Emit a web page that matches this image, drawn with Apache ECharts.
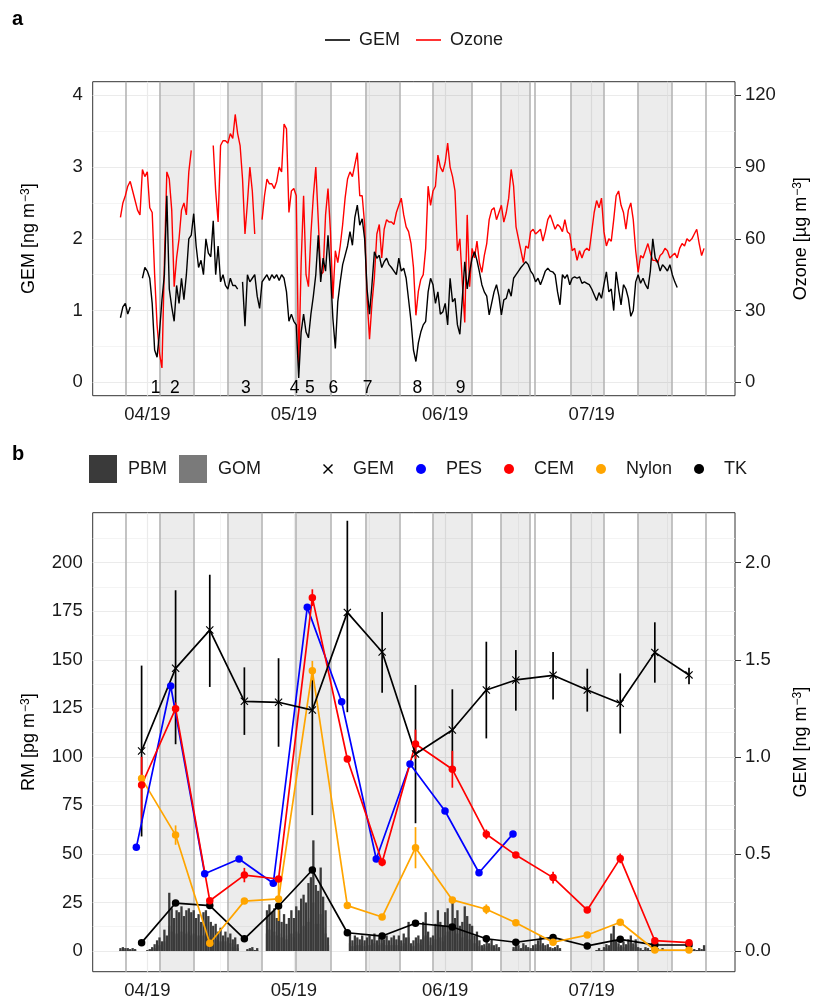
<!DOCTYPE html>
<html>
<head>
<meta charset="utf-8">
<script src="https://cdn.jsdelivr.net/npm/echarts@6/dist/echarts.min.js"></script>
<style>
  html, body { margin: 0; padding: 0; background: #fff; }
  #chart { width: 814px; height: 997px; }
</style>
</head>
<body>
<div id="chart"></div>
<script>
// ---------- data ----------
// panel a + bars of panel b: values every 12 h from seriesStart
var seriesStart = '2019-03-26 12:00';

var gem = [
  0.9, 1.05, 1.1, 0.95, 1.05, null, null, null, null, 1.45,
  1.6, 1.55, 1.45, 1.1, 0.45, 0.35, 0.7, 1.15, 1.5, 2.6,
  1.3, 1.05, 0.85, 1.35, 1.1, 1.45, 1.15, 1.5, 2.0, 2.05,
  2.35, 1.9, 1.6, 1.7, 1.5, 2.0, 1.8, 1.75, 2.25, 1.5,
  1.9, 1.4, 1.5, 1.35, 1.3, 1.45, 1.35, 1.35, 1.3, null,
  1.4, 0.78, 1.5, 1.4, 1.45, 1.5, 1.2, 1.03, 1.4, 1.45,
  1.5, 1.42, 1.5, 1.45, 1.5, 1.42, 1.5, 1.45, 1.26, 0.85,
  0.95, 0.85, 0.8, 0.06, 0.7, 0.95, 0.7, 0.62, 0.95, 1.2,
  1.5, 2.05, 1.4, 1.73, 1.55, 2.05, 1.55, 0.89, 0.47, 1.12,
  1.4, 1.64, 1.77, 1.9, 2.1, 1.91, 2.3, 2.47, 2.19, 2.28,
  2.0, 1.3, 0.95, 1.36, 1.82, 1.73, 1.77, 1.6, 1.68, 1.73,
  1.64, 1.6, 1.55, 1.5, 1.73, 1.55, 1.59, 1.45, 1.15, 0.85,
  0.45, 0.29, 0.55, 0.7, 0.8, 0.85, 1.26, 1.45, 1.36, 1.1,
  1.26, 0.95, 0.98, 1.1, 0.8, 1.45, 1.12, 1.17, 0.8, 0.67,
  1.17, 1.68, 1.3, 1.54, 1.73, 1.82, 1.7, 1.54, 1.36, 1.26,
  1.2, 0.94, 1.1, 1.26, 1.36, 1.2, 0.94, 1.15, 1.17, 1.3,
  1.2, 1.45, 1.5, 1.55, 1.6, 1.64, 1.68, 1.64, 1.55, 1.5,
  1.4, 1.45, 1.36, 1.45, 1.55, 1.59, 1.55, 1.54, 1.5, 1.26,
  1.08, 1.5, 1.45, 1.5, 1.36, 1.45, 1.47, 1.45, 1.47, 1.38,
  1.4, 1.38, 1.36, 1.3, 1.22, 1.14, 1.25, 1.17, 1.36, 1.54,
  1.26, 1.3, 1.0, 1.54, 1.3, 1.08, 1.36, 1.3, 1.17, 0.92,
  1.0, 1.4, 1.5, 1.38, 1.45, 1.36, 1.3, 1.55, 2.0, 1.73,
  1.68, 1.55, 1.64, 1.6, 1.55, 1.64, 1.5, 1.4, 1.32
];

var ozone = [
  69, 75, 78, 82, 84, 80, 76, 72, 70, 89,
  86, 88, 73, 71, 45, 24, 12, 6, 50, 88,
  85, 72, 40, 52, 60, 72, 75, 70, 88, 97,
  null, null, null, null, null, null, null, null, 99, 80,
  67, 99, 101, 101, 100, 104, 102, 112, 104, 99,
  85, 62, 75, 90, 80, 62, null, null, 68, 78,
  85, 83, 83, 81, 84, 90, 88, 108, 106, 71,
  80, 81, 78, 6, 50, 78, 45, 40, 62, 78,
  90, 68, 45, 46, 70, 81, 63, 35, 55, 50,
  57, 66, 77, 85, 88, 86, 91, 96, 78, 78,
  66, 35, 18, 33, 44, 62, 66, 52, 64, 68,
  67, 67, 66, 71, 74, 77, 70, 65, 63, 58,
  48, 28, 38, 43, 45, 56, 82, 74, 80, 82,
  95, 90, 88, 92, 100, 90, 86, 80, 55, 60,
  42, 25, 70, 40, 56, 52, 59, 50, 46, 53,
  58, 68, 72, 73, 68, 71, 74, 67, 71, 77,
  89, 82, 65, 60, 55, 50, 57, 56, 63, 64,
  62, 63, 64, 59, 63, 68, 70, 67, 64, 66,
  65, 63, 68, 63, 62, 55, 56, 51, 55, 52,
  55, 56, 55, 63, 71, 76, 73, 77, 63, 57,
  60, 59, 68, 78, 80, 74, 71, 64, 72, 75,
  68, 55, 46, 53, 52, 55, 58, 54, 51, 51,
  50, 53, 54, 56, 55, 52, 53, 54, 52, 56,
  58, 57, 60, 59, 60, 62, 64, 58, 53, 56
];

var pbm = [
  1.5, 2, 1.5, 1.5, 1, 1.5, 1, 0, 0, 0,
  0, 0.5, 1, 2, 3.5, 5.5, 7, 5, 11, 8,
  30, 22, 17, 21, 20, 23, 18, 21, 22, 20,
  21, 17, 19, 15, 20, 21, 18, 15, 13, 14,
  10, 12, 8, 10, 7, 9, 6, 7, 3.5, 0,
  0, 0, 1, 1.5, 2, 0.5, 1.5, 0, 0, 0,
  21, 24, 20, 22, 17, 21, 15, 19, 14, 17,
  21, 17, 23, 21, 27, 29, 25, 35, 38, 57,
  34, 31, 43, 28, 21, 7, 0, 0, 0, 0,
  0, 0, 0, 0, 10, 5.5, 8, 7, 6, 8,
  5.5, 7, 8, 6, 9, 5.5, 7, 8, 6, 8,
  5.5, 7, 8, 6, 8, 5.5, 9, 7, 15, 4,
  5.5, 7, 8, 6, 15, 20, 10, 7, 8, 14,
  21, 15, 13, 20, 22, 14, 27, 17, 21, 13,
  15, 23, 18, 14, 13, 8, 10, 5.5, 3, 3.5,
  5.5, 4, 6, 3, 3.5, 2, 0, 0, 0, 0,
  0, 2, 3.5, 3, 1.5, 4, 3, 2, 1.5, 3,
  3.5, 5.5, 8, 4, 3, 3.5, 2, 1.5, 2, 3,
  1.5, 0, 0, 0, 0, 0, 0, 0, 0, 0,
  0, 0, 0, 0, 0, 0.5, 1.5, 0.5, 2, 3.5,
  3, 9, 13, 5.5, 4, 3, 5, 3.5, 6, 8,
  4, 6, 2, 1.5, 0.5, 2, 1.5, 0.5, 1.5, 0.5,
  1.5, 0.5, 1.5, 0.5, 0, 0, 0, 0, 0, 0,
  0, 0, 0, 0, 0.5, 1, 0.5, 1.5, 1, 3,
  0
];

var gom = [
  0.5, 0.5, 0.5, 0.5, 0.5, 0.5, 0.5, 0, 0, 0,
  0, 0, 0.5, 1, 1.5, 2.5, 3, 2, 5, 4,
  13, 10, 8, 9, 8, 10, 8, 9, 10, 8,
  9, 7, 8, 7, 8, 9, 8, 7, 5, 6,
  4, 5, 4, 5, 3, 4, 2, 3, 1.5, 0,
  0, 0, 0.5, 0.5, 1, 0.5, 0.5, 0, 0, 0,
  9, 11, 8, 10, 8, 9, 7, 8, 6, 8,
  9, 7, 10, 9, 11, 13, 11, 15, 17, 25,
  14, 14, 19, 12, 9, 3, 0, 0, 0, 0,
  0, 0, 0, 0, 4, 2.5, 4, 3, 3, 4,
  2.5, 3, 3, 3, 4, 2.5, 3, 4, 3, 3,
  2.5, 3, 4, 3, 3, 2.5, 4, 3, 7, 2,
  2.5, 3, 4, 3, 7, 8, 5, 3, 4, 6,
  9, 7, 5, 8, 10, 6, 11, 8, 9, 5,
  7, 10, 8, 6, 5, 4, 4, 2.5, 1, 1.5,
  2.5, 2, 3, 1, 1.5, 1, 0, 0, 0, 0,
  0, 1, 1.5, 1, 0.5, 2, 1, 1, 0.5, 1,
  1.5, 2.5, 3, 2, 1, 1.5, 1, 0.5, 1, 1,
  0.5, 0, 0, 0, 0, 0, 0, 0, 0, 0,
  0, 0, 0, 0, 0, 0.5, 0.5, 0.5, 1, 1.5,
  1, 4, 6, 2.5, 2, 1, 2, 1.5, 3, 4,
  2, 3, 1, 0.5, 0.5, 1, 0.5, 0.5, 0.5, 0.5,
  0.5, 0.5, 0.5, 0.5, 0, 0, 0, 0, 0, 0,
  0, 0, 0, 0, 0.5, 0.5, 0.5, 0.5, 0.5, 1,
  0
];

// event numbers under panel a
var eventLabels = ['1', '2', '3', '4', '5', '6', '7', '8', '9'];
var eventDates = ['2019-04-02 17:00', '2019-04-06 15:00', '2019-04-21 04:00', '2019-05-01 04:00',
  '2019-05-04 07:00', '2019-05-09 02:00', '2019-05-16 03:00', '2019-05-26 07:00', '2019-06-04 04:00'];

// sampler change times (grey vertical lines) and shaded periods
var changeDates = ['2019-03-27 12:00', '2019-04-03 13:00', '2019-04-10 10:00', '2019-04-17 10:00',
  '2019-04-24 09:00', '2019-05-01 10:00', '2019-05-08 11:00', '2019-05-15 15:00', '2019-05-22 15:00',
  '2019-05-29 13:00', '2019-06-06 11:00', '2019-06-12 10:00', '2019-06-18 06:00', '2019-06-19 10:00',
  '2019-06-26 16:00', '2019-07-03 10:00', '2019-07-10 10:00', '2019-07-17 09:00', '2019-07-24 10:00'];
var shadeFrom = ['2019-04-03 13:00', '2019-04-17 10:00', '2019-05-01 10:00', '2019-05-15 15:00',
  '2019-05-29 13:00', '2019-06-12 10:00', '2019-06-26 16:00', '2019-07-10 10:00'];
var shadeTo = ['2019-04-10 10:00', '2019-04-24 09:00', '2019-05-08 11:00', '2019-05-22 15:00',
  '2019-06-06 11:00', '2019-06-18 06:00', '2019-07-03 10:00', '2019-07-17 09:00'];

// panel b weekly samples
var sampleDates = ['2019-03-30 20:00', '2019-04-06 19:00', '2019-04-13 19:00', '2019-04-20 21:00',
  '2019-04-27 21:00', '2019-05-04 19:00', '2019-05-11 23:00', '2019-05-19 02:00', '2019-05-25 22:00',
  '2019-06-02 11:00', '2019-06-09 10:00', '2019-06-15 11:00', '2019-06-23 02:00', '2019-06-30 02:00',
  '2019-07-06 20:00', '2019-07-13 22:00', '2019-07-20 22:00'];
var pesDates = ['2019-03-29 18:00', '2019-04-05 19:00', '2019-04-12 18:00', '2019-04-19 19:00',
  '2019-04-26 19:00', '2019-05-03 18:00', '2019-05-10 19:00', '2019-05-17 21:00', '2019-05-24 19:00',
  '2019-05-31 23:00', '2019-06-07 22:00', '2019-06-14 21:00'];

var gemWeek = [1.03, 1.456, 1.653, 1.286, 1.281, 1.241, 1.744, 1.54, 1.015, 1.138, 1.344, 1.396, 1.42, 1.344, 1.276, 1.538, 1.422];
var gemWeekLo = [0.59, 1.065, 1.36, 1.113, 1.052, 0.70, 1.23, 1.33, 0.658, 0.93, 1.095, 1.238, 1.296, 1.233, 1.12, 1.382, 1.374];
var gemWeekHi = [1.47, 1.858, 1.938, 1.461, 1.508, 1.447, 2.216, 1.746, 1.37, 1.348, 1.593, 1.55, 1.54, 1.454, 1.43, 1.693, 1.459];

var pes = [53.4, 136.5, 39.8, 47.4, 34.9, 177, 128.4, 47.4, 96.3, 72.1, 40.3, 60.3];

var cem = [85.5, 124.8, 25.9, 39.1, 37.1, 182, 98.9, 45.7, 106.6, 93.6, 60.1, 49.4, 37.8, 21.1, 47.7, 5.3, 4.3];
var cemLo = [66, 122, 25, 35.4, 35.6, 177.7, 98, 43.7, 99, 84.1, 57.6, 47.9, 34.8, 20.1, 45.2, 4.3, 3.8];
var cemHi = [100, 128, 27, 42.8, 38.6, 186.3, 100, 47.7, 114, 103.1, 62.6, 50.9, 40.8, 22.1, 50.2, 6.3, 4.8];

var nylon = [88.9, 59.7, 4.0, 25.7, 26.8, 144.4, 23.4, 17.5, 53.2, 26.3, 21.5, 14.6, 4.5, 8.2, 14.8, 0.5, 0.5];
var nylonLo = [87.9, 54.7, 3, 24.7, 15.5, 139.4, 22.4, 16.5, 42.6, 25.3, 19, 13.6, 3.5, 7.2, 13.8, 0, 0];
var nylonHi = [89.9, 64.7, 5, 26.7, 38.1, 149.4, 24.4, 18.5, 63.8, 27.3, 24, 15.6, 5.5, 9.2, 15.8, 1, 1];

var tk = [4.3, 24.7, 23.4, 6.3, 23.2, 41.7, 9.4, 7.7, 14.3, 12.4, 6.3, 4.5, 7.0, 2.6, 6.0, 3.2, 3.1];

// ticks and grid lines
var monthTicks = ['2019-04-01 00:00', '2019-05-01 00:00', '2019-06-01 00:00', '2019-07-01 00:00'];
var monthLabels = ['04/19', '05/19', '06/19', '07/19'];
var midMonths = ['2019-04-16 00:00', '2019-05-16 12:00', '2019-06-16 00:00', '2019-07-16 12:00'];
var gemTicksA = [0, 1, 2, 3, 4];
var gemMinorA = [0.5, 1.5, 2.5, 3.5];
var ozoneTicks = [0, 30, 60, 90, 120];
var rmTicks = [0, 25, 50, 75, 100, 125, 150, 175, 200];
var rmMinor = [12.5, 37.5, 62.5, 87.5, 112.5, 137.5, 162.5, 187.5, 212.5];
var gemTicksB = [0, 0.5, 1, 1.5, 2];

// ---------- helpers ----------
// x axis is a value axis in days since 2019-04-01 00:00
var DAY = 86400000;
var ORIGIN = Date.UTC(2019, 3, 1);
function dayOf(s) {
  var p = s.split(/[- :]/).map(Number);
  return (Date.UTC(p[0], p[1] - 1, p[2], p[3] || 0, p[4] || 0) - ORIGIN) / DAY;
}
var d0 = dayOf(seriesStart);
function hourly(arr) {
  return arr.map(function (v, i) { return [d0 + i * 0.5, v]; });
}
function weekly(dates, arr) {
  return arr.map(function (v, i) { return [dayOf(dates[i]), v]; });
}

var FONT = 'Liberation Sans';
var TXT = '#1a1a1a';
var xMin = dayOf('2019-03-20 19:40');
var xMax = dayOf('2019-07-30 08:00');
var monthDays = monthTicks.map(dayOf);
var X_PATH = 'path://M1,0 L5,4 L9,0 L10,1 L6,5 L10,9 L9,10 L5,6 L1,10 L0,9 L4,5 L0,1 Z';

function fmtMonth(v) {
  var k = monthDays.indexOf(v);
  return k < 0 ? '' : monthLabels[k];
}

function xAxisFor(g) {
  return {
    type: 'value', gridIndex: g, min: xMin, max: xMax,
    axisLine: { show: false },
    axisTick: { show: true, length: 6, lineStyle: { color: '#333', width: 1 }, customValues: monthDays },
    axisLabel: { customValues: monthDays, formatter: fmtMonth, fontSize: 18.5, color: TXT, fontFamily: FONT, margin: 10 },
    splitLine: { show: false }
  };
}

function yAxisFor(g, pos, min, max, ticks, name, fmt) {
  return {
    type: 'value', gridIndex: g, position: pos, min: min, max: max,
    axisLine: { show: false },
    axisTick: { show: true, length: 6, lineStyle: { color: '#333', width: 1 }, customValues: ticks },
    axisLabel: { customValues: ticks, fontSize: 18.5, color: TXT, fontFamily: FONT, margin: 10, formatter: fmt },
    splitLine: { show: false },
    name: name, nameLocation: 'middle', nameRotate: 90, nameGap: pos === 'left' ? 55 : 57,
    nameTextStyle: {
      fontSize: 18, color: '#000', fontFamily: FONT,
      rich: { sup: { fontSize: 12, verticalAlign: 'top', fontFamily: FONT, color: '#000', padding: [0, 0, 6, 1] } }
    }
  };
}

function gridLines(xIdx, yIdx, yMajor, yMinor) {
  var data = [];
  yMajor.forEach(function (v) { data.push({ yAxis: v, lineStyle: { color: '#EBEBEB', width: 1.2, type: 'solid' } }); });
  yMinor.forEach(function (v) { data.push({ yAxis: v, lineStyle: { color: '#EFEFEF', width: 0.7, type: 'solid' } }); });
  monthTicks.forEach(function (v) { data.push({ xAxis: dayOf(v), lineStyle: { color: '#EBEBEB', width: 1.2, type: 'solid' } }); });
  midMonths.forEach(function (v) { data.push({ xAxis: dayOf(v), lineStyle: { color: '#EFEFEF', width: 0.7, type: 'solid' } }); });
  var areas = shadeFrom.map(function (f, i) { return [{ xAxis: dayOf(f) }, { xAxis: dayOf(shadeTo[i]) }]; });
  return [{
    type: 'line', name: '_grid' + xIdx, xAxisIndex: xIdx, yAxisIndex: yIdx, data: [], silent: true,
    markLine: { z: 1, silent: true, symbol: ['none', 'none'], label: { show: false }, animation: false, data: data },
    markArea: { z: 1.5, silent: true, animation: false, itemStyle: { color: 'rgba(0,0,0,0.075)' }, data: areas }
  }, {
    type: 'line', name: '_chg' + xIdx, xAxisIndex: xIdx, yAxisIndex: yIdx, data: [], silent: true,
    markLine: {
      z: 1.8, silent: true, symbol: ['none', 'none'], label: { show: false }, animation: false,
      lineStyle: { color: '#B5B5B5', width: 1.6, type: 'solid' },
      data: changeDates.map(function (d) { return { xAxis: dayOf(d) }; })
    }
  }];
}

function errBars(name, dates, lo, hi, color, yIdx) {
  return {
    type: 'custom', name: name, xAxisIndex: 1, yAxisIndex: yIdx, z: 4, silent: true,
    data: lo.map(function (v, i) { return [dayOf(dates[i]), v, hi[i]]; }),
    encode: { x: 0, y: [1, 2] },
    renderItem: function (params, api) {
      var a = api.coord([api.value(0), api.value(1)]);
      var b = api.coord([api.value(0), api.value(2)]);
      return { type: 'line', shape: { x1: a[0], y1: a[1], x2: b[0], y2: b[1] }, style: { stroke: color, lineWidth: 1.7 } };
    }
  };
}

function pointLine(name, dates, arr, color, yIdx, symbol, size) {
  return {
    type: 'line', name: name, xAxisIndex: 1, yAxisIndex: yIdx, z: 5,
    data: weekly(dates, arr),
    symbol: symbol, symbolSize: size, showAllSymbol: true,
    lineStyle: { width: 1.7, color: color }, itemStyle: { color: color }
  };
}

var chart = echarts.init(document.getElementById('chart'), null, { renderer: 'canvas' });

var series = []
  .concat(gridLines(0, 0, gemTicksA, gemMinorA))
  .concat(gridLines(1, 2, rmTicks, rmMinor))
  .concat([
    {
      type: 'line', name: 'GEM', xAxisIndex: 0, yAxisIndex: 0, z: 5, data: hourly(gem),
      symbol: 'none', lineStyle: { width: 1.4, color: '#000' }, itemStyle: { color: '#000' }
    },
    {
      type: 'line', name: 'Ozone', xAxisIndex: 0, yAxisIndex: 1, z: 4, data: hourly(ozone),
      symbol: 'none', lineStyle: { width: 1.4, color: '#FF0000' }, itemStyle: { color: '#FF0000' }
    },
    {
      type: 'scatter', name: '_events', xAxisIndex: 0, yAxisIndex: 0, z: 6, silent: true,
      data: eventDates.map(function (d, i) { return { name: eventLabels[i], value: [dayOf(d), -0.08] }; }),
      symbolSize: 1, itemStyle: { color: 'rgba(0,0,0,0)' },
      label: {
        show: true, position: 'inside', formatter: function (p) { return p.name; },
        fontSize: 17.5, color: '#000', textBorderWidth: 0, opacity: 1, fontFamily: FONT
      }
    },
    {
      type: 'bar', name: 'GOM', xAxisIndex: 1, yAxisIndex: 2, stack: 'rm', z: 2, data: hourly(gom),
      barWidth: 2.3, itemStyle: { color: '#7A7A7A' }
    },
    {
      type: 'bar', name: 'PBM', xAxisIndex: 1, yAxisIndex: 2, stack: 'rm', z: 2, data: hourly(pbm),
      barWidth: 2.3, itemStyle: { color: '#3A3A3A' }
    },
    errBars('_gemErr', sampleDates, gemWeekLo, gemWeekHi, '#000', 3),
    errBars('_cemErr', sampleDates, cemLo, cemHi, '#FF0000', 2),
    errBars('_nylErr', sampleDates, nylonLo, nylonHi, '#FFA500', 2),
    pointLine('TK', sampleDates, tk, '#000', 2, 'circle', 7.5),
    pointLine('Nylon', sampleDates, nylon, '#FFA500', 2, 'circle', 7.5),
    pointLine('PES', pesDates, pes, '#0000FF', 2, 'circle', 7.5),
    pointLine('CEM', sampleDates, cem, '#FF0000', 2, 'circle', 7.5),
    pointLine('GEM_b', sampleDates, gemWeek, '#000', 3, X_PATH, 8)
  ]);

var option = {
  animation: false,
  backgroundColor: '#fff',
  textStyle: { fontFamily: FONT },
  title: [
    { text: 'a', left: 12, top: 9, padding: 0, textStyle: { fontSize: 20, fontWeight: 'bold', color: '#000', fontFamily: FONT } },
    { text: 'b', left: 12, top: 444, padding: 0, textStyle: { fontSize: 20, fontWeight: 'bold', color: '#000', fontFamily: FONT } }
  ],
  legend: [
    {
      data: [{ name: 'GEM', icon: 'rect' }, { name: 'Ozone', icon: 'rect' }],
      left: 325, top: 30, padding: 0, itemWidth: 25, itemHeight: 1.6, itemGap: 16,
      selectedMode: false, itemStyle: { borderWidth: 0 },
      textStyle: { fontSize: 18, color: TXT, fontFamily: FONT, lineHeight: 20, padding: [0, 0, 0, 4] }
    },
    {
      data: [{ name: 'PBM', icon: 'rect' }, { name: 'GOM', icon: 'rect' }],
      left: 89, top: 455, padding: 0, itemWidth: 28, itemHeight: 28, itemGap: 12, selectedMode: false,
      itemStyle: { borderWidth: 0 },
      textStyle: { fontSize: 18, color: TXT, fontFamily: FONT, padding: [0, 0, 0, 6] }
    },
    {
      data: [{ name: 'GEM_b', icon: X_PATH }, { name: 'PES', icon: 'circle' }, { name: 'CEM', icon: 'circle' },
        { name: 'Nylon', icon: 'circle' }, { name: 'TK', icon: 'circle' }],
      left: 323, top: 459, padding: 0, itemWidth: 10, itemHeight: 10, itemGap: 22, selectedMode: false,
      itemStyle: { borderWidth: 0 },
      formatter: function (n) { return n.replace('_b', ''); },
      textStyle: { fontSize: 18, color: TXT, fontFamily: FONT, lineHeight: 20, padding: [0, 0, 0, 15] }
    }
  ],
  grid: [
    {
      left: 92.7, top: 81.7, width: 642.3, height: 314, outerBoundsMode: 'none', containLabel: false,
      show: true, borderColor: '#333', borderWidth: 1, backgroundColor: 'transparent'
    },
    {
      left: 92.7, top: 512.7, width: 642.3, height: 459, outerBoundsMode: 'none', containLabel: false,
      show: true, borderColor: '#333', borderWidth: 1, backgroundColor: 'transparent'
    }
  ],
  xAxis: [xAxisFor(0), xAxisFor(1)],
  yAxis: [
    yAxisFor(0, 'left', -0.187, 4.19, gemTicksA, 'GEM [ng m{sup|−3}]'),
    yAxisFor(0, 'right', -5.61, 125.7, ozoneTicks, 'Ozone [µg m{sup|−3}]'),
    yAxisFor(1, 'left', -10.66, 225.75, rmTicks, 'RM [pg m{sup|−3}]'),
    yAxisFor(1, 'right', -0.1066, 2.2575, gemTicksB, 'GEM [ng m{sup|−3}]', function (v) { return v.toFixed(1); })
  ],
  series: series
};

chart.setOption(option);
</script>
</body>
</html>
